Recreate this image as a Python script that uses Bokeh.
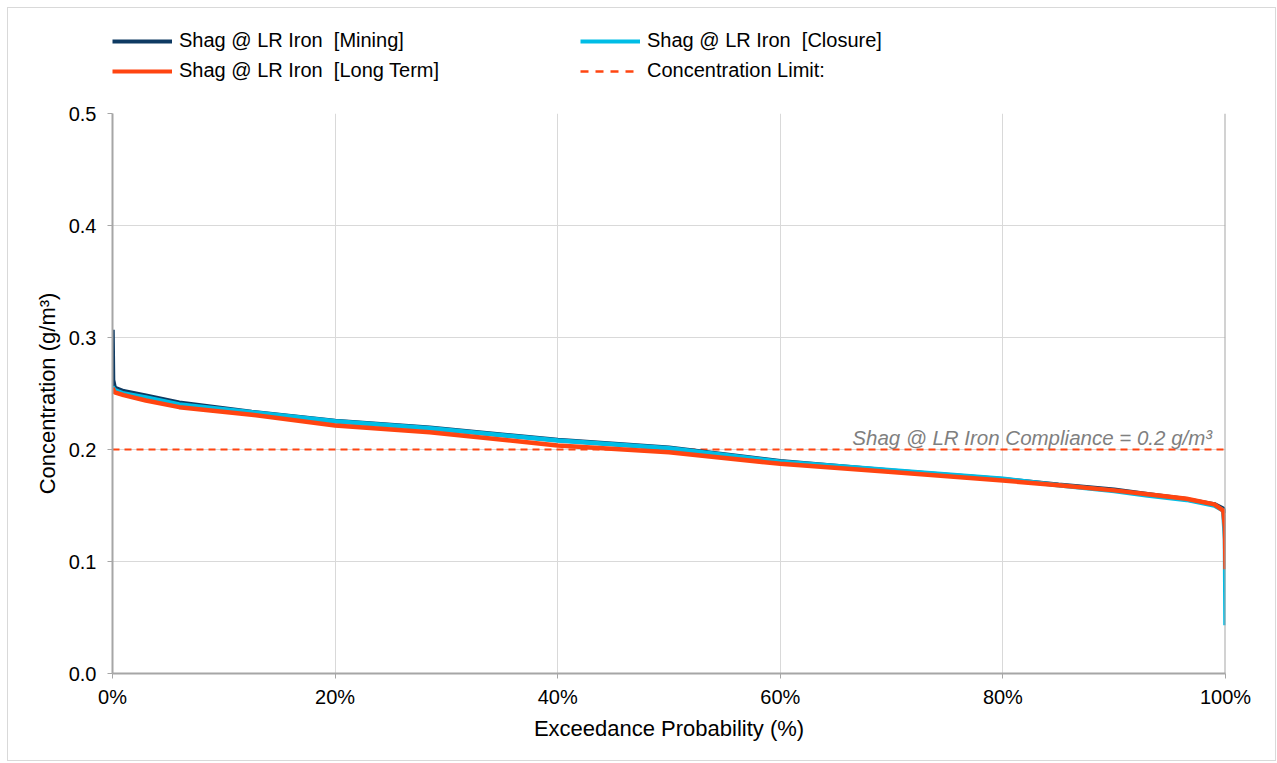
from bokeh.plotting import figure
from bokeh.layouts import column
from bokeh.models import (Range1d, Legend, LegendItem, Label, Span,
                          FixedTicker, PrintfTickFormatter)
from bokeh.embed import file_html
from bokeh.resources import INLINE

# ---- data ----
mining_x = [0, 0.05, 0.2, 1, 3, 6, 12.5, 20, 28.5, 40, 50, 60, 70, 80, 85, 90, 93, 96.5, 99, 99.8, 100]
mining_y = [0.307, 0.262, 0.255, 0.252, 0.248, 0.2417, 0.2335, 0.2255, 0.2195, 0.2085, 0.2015,
            0.1895, 0.1810, 0.1735, 0.1685, 0.1640, 0.1600, 0.1555, 0.1510, 0.1470, 0.1430]

closure_x = [0, 0.2, 1, 3, 6, 12.5, 20, 28.5, 40, 50, 60, 70, 80, 85, 90, 93, 96.5, 99, 99.8, 99.95, 100]
closure_y = [0.256, 0.253, 0.250, 0.2464, 0.2402, 0.2333, 0.2253, 0.2190, 0.2080, 0.2012, 0.1890,
             0.1815, 0.1740, 0.1680, 0.1630, 0.1590, 0.1550, 0.1500, 0.1455, 0.1200, 0.0430]

longterm_x = [0, 0.2, 1, 3, 6, 12.5, 20, 28.5, 40, 50, 60, 70, 80, 85, 90, 93, 96.5, 99, 99.8, 99.95, 100]
longterm_y = [0.255, 0.251, 0.2485, 0.2437, 0.2378, 0.2310, 0.2214, 0.2155, 0.2036, 0.1976, 0.1872,
              0.1800, 0.1723, 0.1680, 0.1635, 0.1600, 0.1560, 0.1510, 0.1455, 0.1300, 0.0930]

limit_x = [0, 100]
limit_y = [0.2, 0.2]

x_ticks = [0, 20, 40, 60, 80, 100]
y_ticks = [0.0, 0.1, 0.2, 0.3, 0.4, 0.5]

series_names = ["Shag @ LR Iron  [Mining]", "Shag @ LR Iron  [Closure]",
                "Shag @ LR Iron  [Long Term]", "Concentration Limit:"]
annotation_text = "Shag @ LR Iron Compliance = 0.2 g/m\u00b3"

FONT = "Liberation Sans"
NAVY = "#0E3A62"
CYAN = "#00BDE6"
ORANGE = "#FF4511"
W = 1267
LEG_H = 95

# ---------------- main chart ----------------
p = figure(width=W, height=752 - LEG_H, output_backend="svg", toolbar_location=None,
           x_range=Range1d(0, 100), y_range=Range1d(0, 0.5),
           min_border_left=104, min_border_right=50, min_border_top=10, min_border_bottom=87)
p.outline_line_color = None
p.background_fill_color = "white"
p.border_fill_color = "white"

p.xgrid.ticker = FixedTicker(ticks=x_ticks)
p.ygrid.ticker = FixedTicker(ticks=y_ticks)
p.grid.grid_line_color = "#D9D9D9"
p.grid.grid_line_width = 1

p.xaxis.ticker = FixedTicker(ticks=x_ticks)
p.yaxis.ticker = FixedTicker(ticks=y_ticks)
p.xaxis.formatter = PrintfTickFormatter(format="%d%%")
p.yaxis.formatter = PrintfTickFormatter(format="%.1f")
for ax in (p.xaxis, p.yaxis):
    ax.axis_line_color = "#A6A6A6"
    ax.axis_line_width = 2
    ax.major_tick_line_color = "#A6A6A6"
    ax.major_tick_line_width = 1
    ax.major_tick_out = 5
    ax.major_tick_in = 0
    ax.minor_tick_line_color = None
    ax.major_label_text_font = FONT
    ax.major_label_text_font_size = "20px"
    ax.major_label_text_color = "#000000"
    ax.axis_label_text_font = FONT
    ax.axis_label_text_font_size = "22px"
    ax.axis_label_text_font_style = "normal"
    ax.axis_label_text_color = "#000000"
p.xaxis.major_label_standoff = 7
p.yaxis.major_label_standoff = 11
p.xaxis.axis_label = "Exceedance Probability (%)"
p.yaxis.axis_label = "Concentration (g/m\u00b3)"
p.xaxis.axis_label_standoff = 5
p.yaxis.axis_label_standoff = 6

p.add_layout(Span(location=100, dimension="height", line_color="#A6A6A6", line_width=2))

r_lim = p.line(limit_x, limit_y, line_color=ORANGE, line_width=2, line_dash="7 5")
r_min = p.line(mining_x, mining_y, line_color=NAVY, line_width=4.5)
r_clo = p.line(closure_x, closure_y, line_color=CYAN, line_width=4.5)
r_lt = p.line(longterm_x, longterm_y, line_color=ORANGE, line_width=4.5)

p.add_layout(Label(x=98.8, y=0.2, text=annotation_text, text_align="right",
                   text_baseline="bottom", y_offset=1, text_font=FONT,
                   text_font_size="20.5px", text_font_style="italic", text_color="#7F7F7F"))

# ---------------- legend strip (its own ranges keep the proxy lines out of view) ----------------
lf = figure(width=W, height=LEG_H, output_backend="svg", toolbar_location=None,
            x_range=Range1d(1000, 1001), y_range=Range1d(1000, 1001),
            x_axis_type=None, y_axis_type=None,
            min_border_left=0, min_border_right=0, min_border_top=0, min_border_bottom=0)
lf.outline_line_color = None
lf.grid.grid_line_color = None
lf.background_fill_color = "white"
lf.border_fill_color = "white"

g_min = lf.line(mining_x, mining_y, line_color=NAVY, line_width=4)
g_lt = lf.line(longterm_x, longterm_y, line_color=ORANGE, line_width=4)
g_clo = lf.line(closure_x, closure_y, line_color=CYAN, line_width=4)
g_lim = lf.line(limit_x, limit_y, line_color=ORANGE, line_width=2.5, line_dash="8 7")

def make_legend(items, xloc):
    return Legend(items=items, location=(xloc, 21), orientation="vertical",
                  glyph_width=60, glyph_height=20, label_height=20, label_standoff=7,
                  spacing=7, padding=0, margin=0,
                  label_text_font=FONT, label_text_font_size="20px", label_text_color="#000000",
                  border_line_color=None, background_fill_alpha=0)

lf.add_layout(make_legend([LegendItem(label=series_names[0], renderers=[g_min]),
                           LegendItem(label=series_names[2], renderers=[g_lt])], 0))
lf.add_layout(make_legend([LegendItem(label=series_names[1], renderers=[g_clo]),
                           LegendItem(label=series_names[3], renderers=[g_lim])], 468))

layout = column(lf, p, spacing=0)
layout.styles = {"border": "1px solid #D9D9D9", "margin": "7px 0 0 7px"}

open("out.html", "w").write(file_html(layout, INLINE))
